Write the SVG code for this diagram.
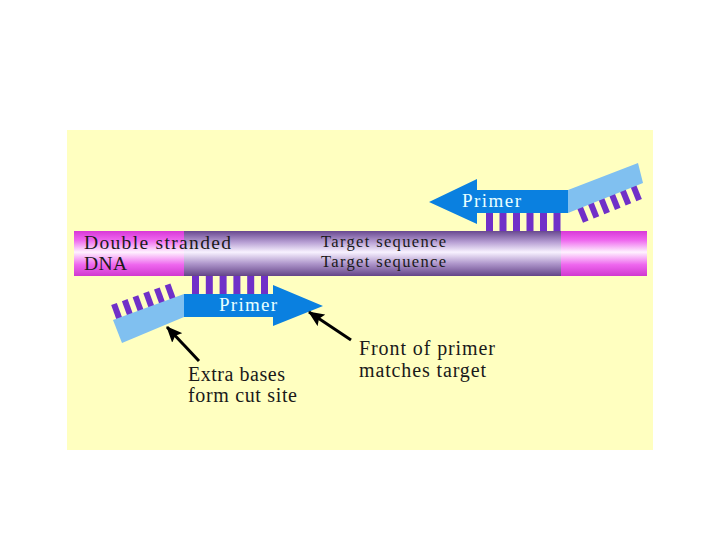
<svg xmlns="http://www.w3.org/2000/svg" width="720" height="540" viewBox="0 0 720 540">
<defs>
<linearGradient id="gPink" x1="0" y1="0" x2="0" y2="1">
<stop offset="0" stop-color="#D838D8"/>
<stop offset="0.2" stop-color="#EE66EE"/>
<stop offset="0.47" stop-color="#FFF2FF"/>
<stop offset="0.75" stop-color="#EE66EE"/>
<stop offset="1" stop-color="#D038D0"/>
</linearGradient>
<linearGradient id="gPurple" x1="0" y1="0" x2="0" y2="1">
<stop offset="0" stop-color="#684890"/>
<stop offset="0.25" stop-color="#B8A0D4"/>
<stop offset="0.47" stop-color="#F8F2FF"/>
<stop offset="0.72" stop-color="#B098CC"/>
<stop offset="1" stop-color="#644488"/>
</linearGradient>
<marker id="ahb" markerWidth="16" markerHeight="14" refX="15" refY="7" orient="auto" markerUnits="userSpaceOnUse" viewBox="0 0 16 14">
<path d="M0,0 L16,7 L0,14 L3,7 z" fill="#000"/>
</marker>
</defs>
<style>
.lbl{font-family:"Liberation Serif","Times New Roman",serif;fill:#1a1a1a}
.pr{font-family:"Liberation Serif","Times New Roman",serif;fill:#E8FFFF;font-size:19px}
.tooth{fill:#7030C8}
.dark{fill:#0A80E0}
.light{fill:#80C0F0}
.conn{stroke:#000;stroke-width:3;fill:none}
</style>
<rect x="67" y="130" width="586" height="320" fill="#FFFFC0"/>

<g id="dna">
<rect x="74" y="231" width="110" height="45" fill="url(#gPink)"/>
<rect x="184" y="231" width="377" height="45" fill="url(#gPurple)"/>
<rect x="561" y="231" width="86" height="45" fill="url(#gPink)"/>
<text class="lbl" x="84" y="249" font-size="19.5" textLength="147" lengthAdjust="spacing">Double stranded</text>
<text class="lbl" x="84" y="270" font-size="19.5" textLength="43" lengthAdjust="spacing">DNA</text>
<text class="lbl" x="321" y="247" font-size="16.5" textLength="125" lengthAdjust="spacing">Target sequence</text>
<text class="lbl" x="321" y="267" font-size="16.5" textLength="125" lengthAdjust="spacing">Target sequence</text>
</g>

<g id="primer-lower">
<g class="tooth">
<rect x="192" y="276" width="7" height="19"/>
<rect x="205.8" y="276" width="7" height="19"/>
<rect x="219.6" y="276" width="7" height="19"/>
<rect x="233.4" y="276" width="7" height="19"/>
<rect x="247.2" y="276" width="7" height="19"/>
<rect x="261" y="276" width="7" height="19"/>
</g>
<g class="tooth" transform="translate(117,321) rotate(-20)">
<rect x="0" y="-17" width="6" height="19"/>
<rect x="11.4" y="-17" width="6" height="19"/>
<rect x="22.8" y="-17" width="6" height="19"/>
<rect x="34.2" y="-17" width="6" height="19"/>
<rect x="45.6" y="-17" width="6" height="19"/>
<rect x="57" y="-17" width="6" height="19"/>
</g>
<polygon class="light" points="113,320 184,294 184,317 122,343"/>
<polygon class="dark" points="184,294 273,294 273,285 323,306 273,326 273,317 184,317"/>
<text class="pr" x="219" y="311" textLength="58" lengthAdjust="spacing">Primer</text>
</g>

<g id="primer-upper">
<g class="tooth">
<rect x="486" y="212" width="7" height="19"/>
<rect x="499.5" y="212" width="7" height="19"/>
<rect x="513" y="212" width="7" height="19"/>
<rect x="526.5" y="212" width="7" height="19"/>
<rect x="540" y="212" width="7" height="19"/>
<rect x="553.5" y="212" width="7" height="19"/>
</g>
<g class="tooth" transform="translate(577,208) rotate(-22)">
<rect x="0" y="-2" width="6" height="18"/>
<rect x="11.5" y="-2" width="6" height="18"/>
<rect x="23" y="-2" width="6" height="18"/>
<rect x="34.5" y="-2" width="6" height="18"/>
<rect x="46" y="-2" width="6" height="18"/>
<rect x="57.5" y="-2" width="6" height="18"/>
</g>
<polygon class="light" points="568,190 638,163 643,183 568,213"/>
<polygon class="dark" points="568,190 477,190 477,179 429,202 477,224 477,213 568,213"/>
<text class="pr" x="462" y="207" textLength="59" lengthAdjust="spacing">Primer</text>
</g>

<g id="label-extra">
<text class="lbl" x="188" y="381" font-size="20" textLength="97" lengthAdjust="spacing">Extra bases</text>
<text class="lbl" x="188" y="402" font-size="20" textLength="109" lengthAdjust="spacing">form cut site</text>
</g>

<g id="label-front">
<text class="lbl" x="359" y="355" font-size="20" textLength="136" lengthAdjust="spacing">Front of primer</text>
<text class="lbl" x="359" y="377" font-size="20" textLength="127" lengthAdjust="spacing">matches target</text>
</g>

<g id="connectors">
<line class="conn" x1="199" y1="361" x2="167" y2="327" marker-end="url(#ahb)"/>
<line class="conn" x1="351" y1="340" x2="309" y2="312" marker-end="url(#ahb)"/>
</g>
</svg>
